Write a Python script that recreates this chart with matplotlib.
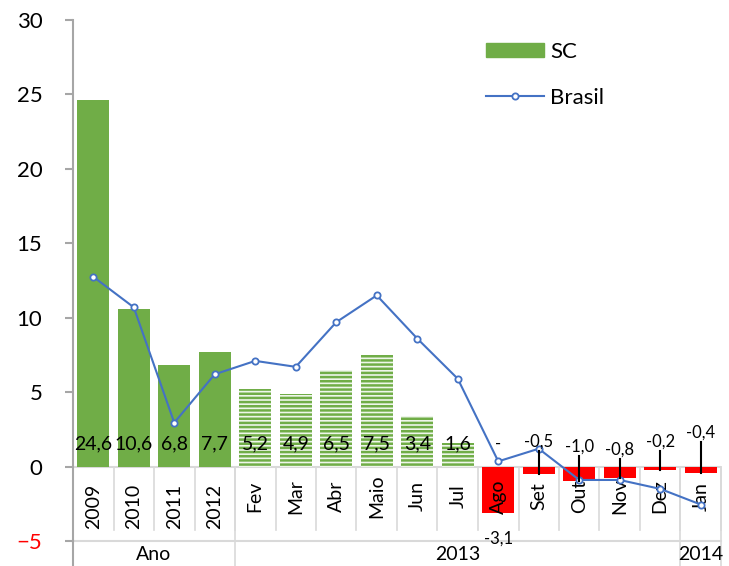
import numpy as np
import matplotlib.pyplot as plt

plt.rcParams['font.family'] = ['Lato', 'DejaVu Sans']
plt.rcParams['hatch.linewidth'] = 1.8

# dados
categorias = ['2009', '2010', '2011', '2012', 'Fev', 'Mar', 'Abr', 'Maio', 'Jun', 'Jul',
              'Ago', 'Set', 'Out', 'Nov', 'Dez', 'Jan']
sc = [24.6, 10.6, 6.8, 7.7, 5.2, 4.9, 6.5, 7.5, 3.4, 1.6, -3.1, -0.5, -1.0, -0.8, -0.2, -0.4]
brasil = [12.75, 10.7, 2.95, 6.2, 7.1, 6.7, 9.7, 11.5, 8.6, 5.9, 0.35, 1.2, -0.9, -0.9, -1.5, -2.55]
grupos = ['Ano', '2013', '2014']
grupo_n = [4, 11, 1]

verde = '#70AD47'
azul = '#4472C4'
vermelho = '#FF0000'
cinza = '#A6A6A6'
cinza_claro = '#D9D9D9'

fig = plt.figure(figsize=(7.29, 5.66), dpi=100)
ax = fig.add_axes([73 / 729, 25 / 566, 648 / 729, 521 / 566])

x = np.arange(len(categorias))
n_anos = grupo_n[0]

for i, v in enumerate(sc):
    if v < 0:
        ax.bar(x[i], v, 0.79, color=vermelho, zorder=2)
    elif i < n_anos:
        ax.bar(x[i], v, 0.79, color=verde, zorder=2)
    else:
        ax.bar(x[i], v, 0.79, facecolor='#EEF6EA', edgecolor=verde, hatch='----',
               linewidth=0, zorder=2)

ax.plot(x, brasil, color=azul, lw=1.5, marker='o', ms=4.5, mfc='white', mec=azul,
        mew=1.3, zorder=4)

# rotulos de dados
def fmt(v):
    return ('%.1f' % v).replace('.', ',')

for i, v in enumerate(sc):
    if v >= 0:
        ax.text(x[i], 1.5, fmt(v), ha='center', va='center', fontsize=14, zorder=5)

neg_pos = {11: 1.7, 12: 1.35, 13: 1.15, 14: 1.7, 15: 2.3}
for i, ly in neg_pos.items():
    ax.text(x[i], ly, fmt(sc[i]), ha='center', va='center', fontsize=12, zorder=5)
    ax.plot([x[i], x[i]], [ly - 0.65, sc[i]], color='black', lw=1.5, zorder=5)
ax.text(x[10], 1.5, '-', ha='center', va='center', fontsize=12, zorder=5)
ax.text(x[10], -4.85, fmt(sc[10]), ha='center', va='center', fontsize=12, zorder=5,
        clip_on=False)

# eixos
ax.set_xlim(-0.5, len(categorias) - 0.5)
ax.set_ylim(-5, 30)
ax.set_yticks(range(-5, 31, 5))
ax.set_xticks([])
for s in ['top', 'right', 'bottom']:
    ax.spines[s].set_visible(False)
ax.spines['left'].set_color(cinza)
ax.spines['left'].set_linewidth(1.5)
ax.tick_params(axis='y', length=6, width=1.5, color=cinza, pad=16, labelsize=16)
ax.get_yticklabels()[0].set_color(vermelho)

ax.axhline(0, color=cinza_claro, lw=1.5, zorder=1)

# eixo de categorias em dois niveis
y_fundo = -6.7
y_linha = -4.23
for i, c in enumerate(categorias):
    yl = -2.7 if i < n_anos else -2.0
    ax.text(x[i], yl, c, rotation=90, ha='center', va='center', fontsize=14, zorder=3,
            clip_on=False)
for b in np.arange(len(categorias) + 1) - 0.5:
    ax.plot([b, b], [0, y_linha], color=cinza_claro, lw=1.2, clip_on=False, zorder=1)
ax.plot([-0.5, len(categorias) - 0.5], [-5, -5], color=cinza_claro, lw=1.5,
        clip_on=False, zorder=1)

inicio = -0.5
for g, n in zip(grupos, grupo_n):
    ax.plot([inicio, inicio], [0, y_fundo], color=cinza_claro, lw=1.2, clip_on=False)
    ax.text(inicio + n / 2, -5.9, g, ha='center', va='center', fontsize=14,
            clip_on=False)
    inicio += n
ax.plot([inicio, inicio], [0, y_fundo], color=cinza_claro, lw=1.2, clip_on=False)
ax.plot([-0.5, -0.5], [-5, y_fundo], color=cinza, lw=1.5, clip_on=False)

# legenda
h1 = plt.Rectangle((0, 0), 1, 1, color=verde)
h2, = plt.plot([], [], color=azul, lw=1.5, marker='o', ms=4.5, mfc='white', mec=azul,
               mew=1.3)
fig.legend([h1, h2], ['SC', 'Brasil'], loc='upper left',
           bbox_to_anchor=(486 / 729, 1 - 42 / 566), frameon=False, fontsize=16,
           handlelength=2.6, handleheight=0.6, handletextpad=0.3, labelspacing=1.15,
           borderpad=0, borderaxespad=0)

fig.savefig('out.png', dpi=100)
